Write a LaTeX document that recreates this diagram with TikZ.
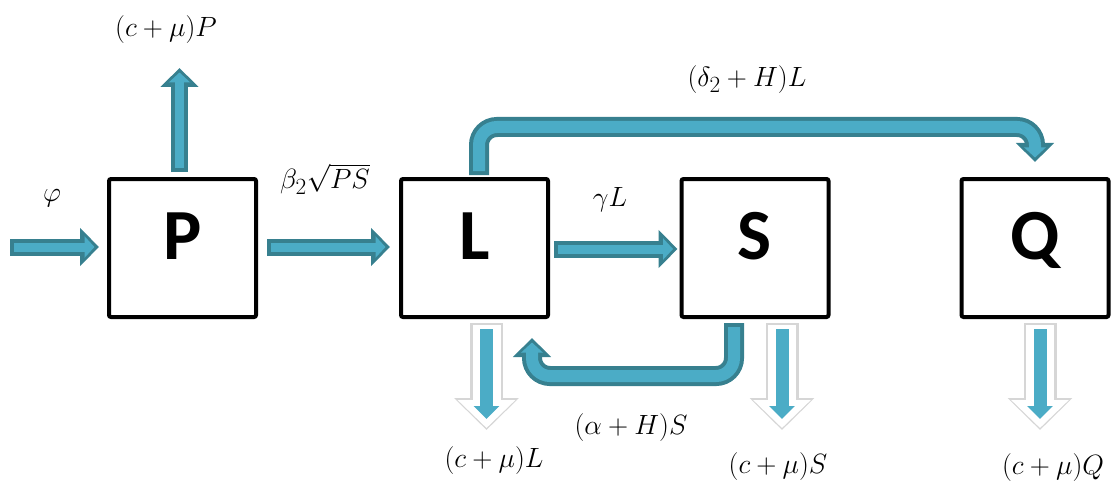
\documentclass[tikz,border=0pt]{standalone}
\usepackage{fontspec}
\usetikzlibrary{arrows.meta,calc}
\newfontfamily\boxfont{Carlito}
\definecolor{flowlight}{HTML}{4BACC6}
\definecolor{flowdark}{HTML}{37808F}
\newcommand{\ratelabel}[1]{\scalebox{1.12}{$#1$}}
\tikzset{
  compbox/.style={draw, line width=4pt, minimum width=147pt, minimum height=138pt,
    rounded corners=2pt, inner sep=0pt, text height=45pt, text depth=22pt,
    font=\boxfont\bfseries\fontsize{72}{72}\selectfont},
  rate/.style={font=\fontsize{24.88}{28}\selectfont, inner sep=1pt},
  flowout/.style={draw=flowdark, line width=17pt, -{Triangle[width=37pt,length=19pt]}},
  flowin/.style={draw=flowlight, line width=9pt, shorten <=4pt, shorten >=4.5pt,
    -{Triangle[width=21pt,length=10pt]}},
  bendout/.style={flowout, line width=20pt, rounded corners=18pt},
  bendin/.style={flowin, line width=12pt, rounded corners=18pt},
  lossglow/.style={draw=black!16, line width=33pt, -{Triangle[width=63pt,length=32pt]}},
  lossbody/.style={draw=white, line width=28pt, shorten <=2pt, shorten >=2pt,
    -{Triangle[width=56pt,length=28pt]}},
  losscore/.style={draw=flowlight, line width=13pt, shorten <=6pt, shorten >=11pt,
    -{Triangle[width=25pt,length=13pt]}}
}
\begin{document}
\begin{tikzpicture}[x=1pt,y=-1pt,line join=miter]
\useasboundingbox (0,0) rectangle (1111,484);
% compartments
\node[compbox] (P) at (182.5,248) {P};
\node[compbox] (L) at (474.5,248) {L};
\node[compbox] (S) at (755,248) {S};
\node[compbox] (Q) at (1035,248) {Q};
% free ends and bends
\coordinate (phiin) at (10,247);
\coordinate (Pout) at (179.5,68);
\coordinate (topbend) at (1035,127);
\coordinate (lowbend) at (532,376);
\coordinate (Lout) at (486.5,430);
\coordinate (Sout) at (782,430);
\coordinate (Qout) at (1040,430);
% straight flows
\foreach \st in {flowout,flowin}{
  \draw[\st] (phiin) -- ([xshift=-8pt,yshift=1pt]P.west);
  \draw[\st] ([xshift=9pt,yshift=1pt]P.east) -- ([xshift=-9pt,yshift=1pt]L.west);
  \draw[\st] ([xshift=4pt,yshift=-1pt]L.east) -- ([xshift=-2pt,yshift=-1pt]S.west);
  \draw[\st] ([xshift=-3pt,yshift=5pt]P.north) -- (Pout);
}
% bent flows
\foreach \st in {bendout,bendin}{
  \draw[\st] ([xshift=4.5pt,yshift=2pt]L.north) |- (topbend) -- ([yshift=15pt]Q.north);
  \draw[\st] ([xshift=-21pt,yshift=-4pt]S.south) |- (lowbend) -- ([xshift=57.5pt,yshift=-19pt]L.south);
}
% losses
\foreach \st in {lossglow,lossbody,losscore}{
  \draw[\st] ([xshift=12pt,yshift=-4pt]L.south) -- (Lout);
  \draw[\st] ([xshift=27pt,yshift=-4pt]S.south) -- (Sout);
  \draw[\st] ([xshift=5pt,yshift=-4pt]Q.south) -- (Qout);
}
% rates
\node[rate] (rphi) at (52,198) {\ratelabel{\varphi}};
\node[rate] (rP) at (166,30) {\ratelabel{(c+\mu)P}};
\node[rate] (rPL) at (325,179) {\ratelabel{\beta_2\sqrt{PS}}};
\node[rate] (rLQ) at (747,80) {\ratelabel{(\delta_2+H)L}};
\node[rate] (rLS) at (610,200) {\ratelabel{\gamma L}};
\node[rate] (rSL) at (631,428) {\ratelabel{(\alpha+H)S}};
\node[rate] (rL) at (494,461) {\ratelabel{(c+\mu)L}};
\node[rate] (rS) at (778,467) {\ratelabel{(c+\mu)S}};
\node[rate] (rQ) at (1053,468) {\ratelabel{(c+\mu)Q}};
\end{tikzpicture}
\end{document}
